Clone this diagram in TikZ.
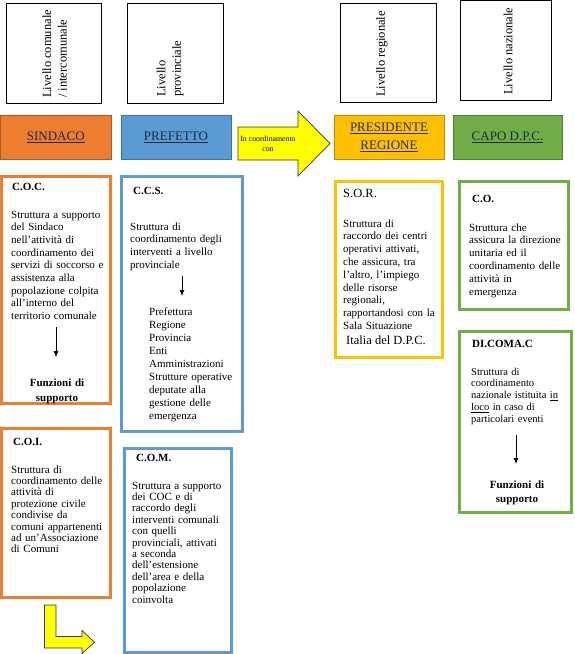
\documentclass[tikz,border=0pt]{standalone}
\usepackage{fontspec}
\setmainfont{Liberation Serif}
\usetikzlibrary{arrows.meta}

\definecolor{arancio}{HTML}{ED7D31}
\definecolor{arancioscuro}{HTML}{AE5A21}
\definecolor{azzurro}{HTML}{5B9BD5}
\definecolor{azzurroscuro}{HTML}{41719C}
\definecolor{oro}{HTML}{FFC000}
\definecolor{oroscuro}{HTML}{BC8C00}
\definecolor{verde}{HTML}{70AD47}
\definecolor{verdescuro}{HTML}{507E32}
\definecolor{giallo}{HTML}{FFFF00}
\definecolor{scritta}{HTML}{1F2A3A}

\begin{document}
\begin{tikzpicture}[x=1pt,y=-1pt,
    livello/.style={draw=black,line width=0.8pt,fill=white,inner sep=0pt,minimum height=99.5pt},
    verticale/.style={rotate=90,anchor=west,align=left,inner sep=0pt,
        font=\fontsize{12.5}{15.5}\selectfont},
    testata/.style={line width=0.8pt,inner sep=0pt,align=center,text=scritta,
        minimum height=43.5pt,font=\fontsize{13}{17.5}\selectfont},
    riquadro/.style={line width=3pt,fill=white,inner sep=0pt},
    titolo/.style={anchor=base west,inner sep=0pt,font=\fontsize{11}{13}\selectfont\bfseries},
    testo/.style={anchor=base west,inner sep=0pt,text width=104pt,align=left,
        font=\fontsize{11}{12.7}\selectfont},
    funzioni/.style={anchor=base,inner sep=0pt,text width=90pt,align=center,
        font=\fontsize{11}{14.5}\selectfont\bfseries},
    freccia/.style={-{Latex[length=6pt,width=5pt]},line width=0.8pt},
    giallafreccia/.style={fill=giallo,draw=black!80,line width=0.7pt}]

    \useasboundingbox (0,0) rectangle (574,654);

    % livelli
    \node[livello,minimum width=94.5pt] (liv1) at (53.8,53.3) {};
    \node[livello,minimum width=95.5pt] (liv2) at (175.3,53.3) {};
    \node[livello,minimum width=95.5pt] (liv3) at (388.3,52.8) {};
    \node[livello,minimum width=91pt] (liv4) at (505.5,50.3) {};
    \node[verticale] (livtxt1) at (54.5,98) {Livello comunale\\/ intercomunale};
    \node[verticale] (livtxt2) at (170,97) {Livello\\provinciale};
    \node[verticale] (livtxt3) at (382,97) {Livello regionale};
    \node[verticale] (livtxt4) at (508,95) {Livello nazionale};

    % autorita
    \node[testata,fill=arancio,draw=arancioscuro,minimum width=110.5pt]
        (sindaco) at (55.8,137.3) {\underline{SINDACO}};
    \node[testata,fill=azzurro,draw=azzurroscuro,minimum width=110pt]
        (prefetto) at (176,137.3) {\underline{PREFETTO}};
    \node[testata,fill=oro,draw=oroscuro,minimum width=110pt]
        (presidente) at (389,137.3) {\underline{PRESIDENTE}\\\underline{REGIONE}};
    \node[testata,fill=verde,draw=verdescuro,minimum width=109pt]
        (capodpc) at (507.5,137.3) {\underline{CAPO D.P.C.}};

    \coordinate (fr1) at (238,127);
    \coordinate (fr2) at (298,127);
    \coordinate (fr3) at (298,111);
    \coordinate (fr4) at (330,143.5);
    \coordinate (fr5) at (298,176);
    \coordinate (fr6) at (298,160);
    \coordinate (fr7) at (238,160);
    \draw[giallafreccia] (fr1) -- (fr2) -- (fr3) -- (fr4) -- (fr5) -- (fr6) -- (fr7) -- cycle;
    \node[inner sep=0pt,align=center,font=\fontsize{7.8}{10}\selectfont]
        (coord) at (268,143.5) {In coordinamento\\con};

    % strutture
    \node[riquadro,draw=arancio,minimum width=108.5pt,minimum height=227pt] (coc) at (55.8,289.5) {};
    \node[riquadro,draw=azzurro,minimum width=120.5pt,minimum height=255pt] (ccs) at (181.8,303.5) {};
    \node[riquadro,draw=arancio,minimum width=108.5pt,minimum height=169pt] (coi) at (55.8,512.5) {};
    \node[riquadro,draw=azzurro,minimum width=107pt,minimum height=204pt] (com) at (177.5,550) {};
    \node[riquadro,draw=oro,minimum width=107.5pt,minimum height=176pt] (sor) at (388.8,269) {};
    \node[riquadro,draw=verde,minimum width=109pt,minimum height=128pt] (co) at (514,245) {};
    \node[riquadro,draw=verde,minimum width=112pt,minimum height=181pt] (dicomac) at (515.5,421.5) {};

    % C.O.C.
    \node[titolo] (coctit) at (12,190.5) {C.O.C.};
    \node[testo] (coctxt) at (11,218) {Struttura a supporto\\del Sindaco\\nell’attività di\\
        coordinamento dei\\servizi di soccorso e\\assistenza alla\\popolazione colpita\\
        all’interno del\\territorio comunale};
    \coordinate (cocA) at (56,327);
    \coordinate (cocB) at (56,357);
    \draw[freccia] (cocA) -- (cocB);
    \node[funzioni] (cocfun) at (57,386.5) {Funzioni di\\supporto};

    % C.C.S.
    \node[titolo] (ccstit) at (133,194) {C.C.S.};
    \node[testo] (ccstxt) at (130,230) {Struttura di\\coordinamento degli\\interventi a livello\\provinciale};
    \coordinate (ccsA) at (182,276);
    \coordinate (ccsB) at (182,296);
    \draw[freccia] (ccsA) -- (ccsB);
    \node[testo,text width=92pt,font=\fontsize{11}{13}\selectfont] (ccslist) at (149,315)
        {Prefettura\\Regione\\Provincia\\Enti\\Amministrazioni\\Strutture operative\\
        deputate alla\\gestione delle\\emergenza};

    % C.O.I.
    \node[titolo] (coitit) at (13,445.5) {C.O.I.};
    \node[testo,font=\fontsize{11}{11.4}\selectfont] (coitxt) at (11,473) {Struttura di\\
        coordinamento delle\\attività di\\protezione civile\\condivise da\\
        comuni appartenenti\\ad un’Associazione\\di Comuni};

    % C.O.M.
    \node[titolo] (comtit) at (136,461.5) {C.O.M.};
    \node[testo,text width=98pt,font=\fontsize{11}{11.4}\selectfont] (comtxt) at (132,489)
        {Struttura a supporto\\dei COC e di\\raccordo degli\\interventi comunali\\con quelli\\
        provinciali, attivati\\a seconda\\dell’estensione\\dell’area e della\\popolazione\\coinvolta};

    % S.O.R.
    \node[titolo,font=\fontsize{12.5}{14}\selectfont] (sortit) at (343,197.5) {S.O.R.};
    \node[testo,text width=98pt,font=\fontsize{11}{12.8}\selectfont] (sortxt) at (343,227)
        {Struttura di\\raccordo dei centri\\operativi attivati,\\che assicura, tra\\
        l’altro, l’impiego\\delle risorse\\regionali,\\rapportandosi con la\\Sala Situazione};
    \node[titolo,font=\fontsize{12.5}{14}\selectfont] (sordpc) at (346,344.5) {Italia del D.P.C.};

    % C.O.
    \node[titolo] (cotit) at (472,202) {C.O.};
    \node[testo,text width=98pt,font=\fontsize{11}{12.8}\selectfont] (cotxt) at (469,231)
        {Struttura che\\assicura la direzione\\unitaria ed il\\coordinamento delle\\
        attività in\\emergenza};

    % DI.COMA.C
    \node[titolo] (dictit) at (472,347) {DI.COMA.C};
    \node[testo,text width=98pt,font=\fontsize{10.5}{11.8}\selectfont] (dictxt) at (471,375)
        {Struttura di\\coordinamento\\nazionale istituita \underline{in}\\
        \underline{loco} in caso di\\particolari eventi};
    \coordinate (dicA) at (516,435);
    \coordinate (dicB) at (516,464);
    \draw[freccia] (dicA) -- (dicB);
    \node[funzioni] (dicfun) at (517,488) {Funzioni di\\supporto};

    % freccia gialla
    \coordinate (elle1) at (44.5,605);
    \coordinate (elle2) at (56,605);
    \coordinate (elle3) at (56,636.5);
    \coordinate (elle4) at (82,636.5);
    \coordinate (elle5) at (82,630.5);
    \coordinate (elle6) at (94.5,642.3);
    \coordinate (elle7) at (82,653.5);
    \coordinate (elle8) at (82,648);
    \coordinate (elle9) at (44.5,648);
    \draw[giallafreccia] (elle1) -- (elle2) -- (elle3) -- (elle4) -- (elle5) -- (elle6)
        -- (elle7) -- (elle8) -- (elle9) -- cycle;
\end{tikzpicture}
\end{document}
